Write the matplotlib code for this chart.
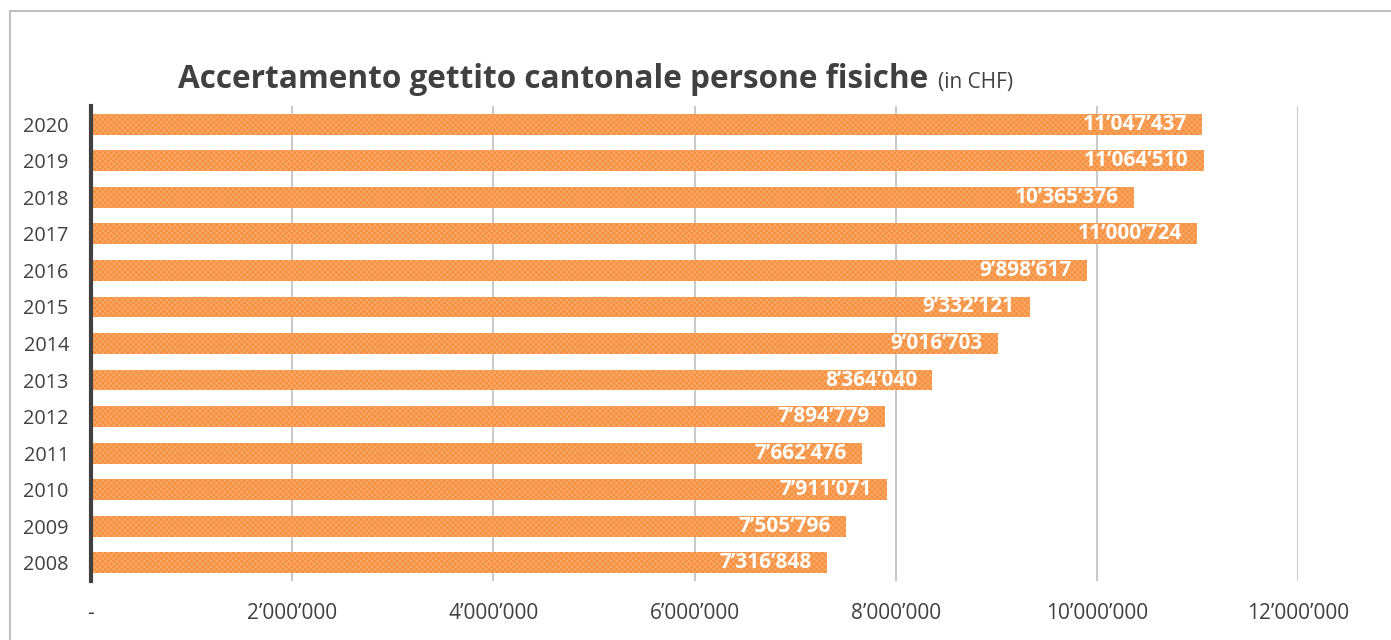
import matplotlib
matplotlib.use("Agg")
import matplotlib.pyplot as plt
from matplotlib.patches import Rectangle
from matplotlib.ticker import FuncFormatter

years = ["2008", "2009", "2010", "2011", "2012", "2013", "2014",
         "2015", "2016", "2017", "2018", "2019", "2020"]
values = [7316848, 7505796, 7911071, 7662476, 7894779, 8364040, 9016703,
          9332121, 9898617, 11000724, 10365376, 11064510, 11047437]
xticks = [0, 2000000, 4000000, 6000000, 8000000, 10000000, 12000000]

FONT = "Open Sans"
plt.rcParams['font.family'] = [FONT, 'DejaVu Sans']
plt.rcParams['hatch.linewidth'] = 0.5
TXT = "#404040"

def fmt(v):
    if v == 0:
        return "-"
    return f"{int(v):,}".replace(",", "\u2019")

fig = plt.figure(figsize=(13.91, 6.40), dpi=100)
fig.patch.set_facecolor("white")

# outer border
fig.add_artist(Rectangle((10 / 1391, -0.05), 1.2, 1 - 11 / 640 + 0.05,
                         transform=fig.transFigure, fill=False,
                         edgecolor="#BFBFBF", linewidth=1.5))

ax = fig.add_axes([91 / 1391, 1 - 581 / 640, (1298 - 91) / 1391, (581 - 106) / 640])
ypos = list(range(len(years)))
bars = ax.barh(ypos, values, height=0.57, color="#F5913F",
               hatch="xxxxxx", linewidth=0, zorder=2)
for b in bars:
    b.set_edgecolor("#FAB074")

for y, v in zip(ypos, values):
    ax.text(v - 150000, y, fmt(v), ha="right", va="center", color="white",
            fontsize=15, fontweight="bold", zorder=3)

ax.set_xlim(0, 12000000)
ax.set_ylim(-0.5, len(years) - 0.5)
ax.set_xticks(xticks)
ax.xaxis.set_major_formatter(FuncFormatter(lambda v, p: fmt(v)))
ax.set_yticks(ypos)
ax.set_yticklabels(years)
ax.grid(axis="x", color="#C4C4C4", linewidth=1.3, zorder=1)
ax.set_axisbelow(True)
for s in ["top", "right", "bottom"]:
    ax.spines[s].set_visible(False)
ax.spines["left"].set_color("#404040")
ax.spines["left"].set_linewidth(3)
ax.tick_params(axis="x", length=0, pad=16, labelsize=15, labelcolor=TXT)
ax.tick_params(axis="y", length=0, pad=16, labelsize=14.3, labelcolor=TXT)

# title
t1 = fig.text(178 / 1391, 1 - 88 / 640, "Accertamento gettito cantonale persone fisiche",
              fontsize=22.7, fontweight="bold", color=TXT, ha="left", va="baseline")
fig.canvas.draw()
bb = t1.get_window_extent()
fig.text((bb.x1 + 10) / 1391, 1 - 88 / 640, "(in CHF)", fontsize=15,
         color=TXT, ha="left", va="baseline")

fig.savefig("out.png", dpi=100, facecolor="white")
